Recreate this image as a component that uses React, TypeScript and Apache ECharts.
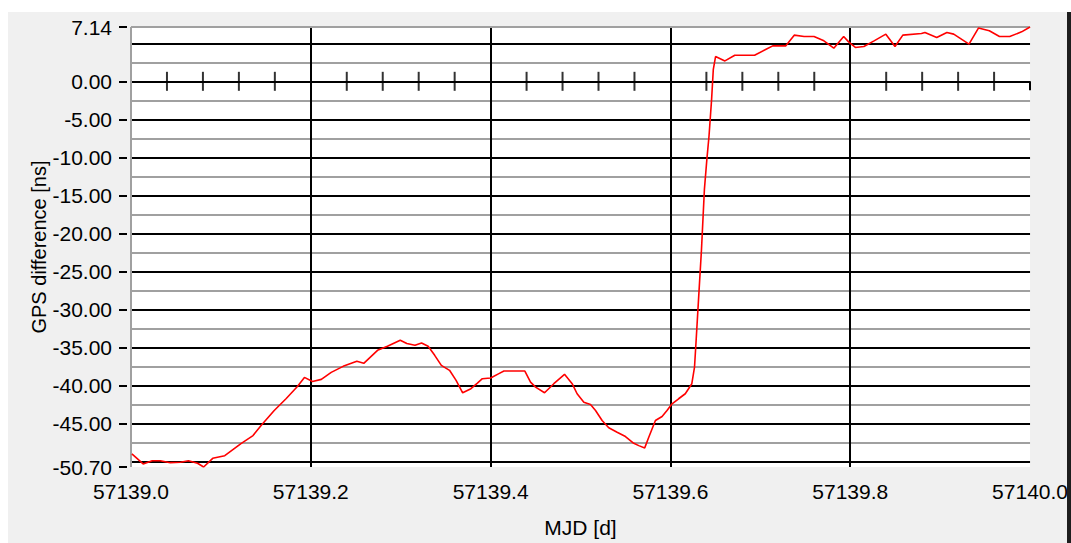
import React, { useEffect, useRef } from "react";
import * as echarts from "echarts";

// MJD sample times [d]
const mjd = [
  57139.001, 57139.0135, 57139.0236, 57139.0325, 57139.0437, 57139.055, 57139.0639, 57139.074,
  57139.0808, 57139.0909, 57139.1043, 57139.1133, 57139.1223, 57139.1357, 57139.1447, 57139.1593,
  57139.1727, 57139.1851, 57139.1929, 57139.2019, 57139.2117, 57139.2227, 57139.2359, 57139.2512,
  57139.2589, 57139.2742, 57139.2852, 57139.2995, 57139.3068, 57139.3159, 57139.3232, 57139.3305,
  57139.3378, 57139.3452, 57139.3543, 57139.3616, 57139.3689, 57139.3781, 57139.3853, 57139.3908,
  57139.4, 57139.4092, 57139.4148, 57139.4381, 57139.4444, 57139.45, 57139.46, 57139.4703,
  57139.4822, 57139.4907, 57139.4962, 57139.5037, 57139.5111, 57139.5167, 57139.524, 57139.5314,
  57139.5407, 57139.55, 57139.5592, 57139.5648, 57139.5714, 57139.5759, 57139.5833, 57139.5907,
  57139.5962, 57139.6018, 57139.6091, 57139.6165, 57139.6238, 57139.6268, 57139.6286, 57139.6312,
  57139.6345, 57139.6378, 57139.6405, 57139.6429, 57139.6458, 57139.6477, 57139.6502, 57139.6606,
  57139.6716, 57139.6936, 57139.7064, 57139.7138, 57139.7284, 57139.7377, 57139.7487, 57139.7597,
  57139.7707, 57139.7817, 57139.7927, 57139.7982, 57139.8057, 57139.8152, 57139.8265, 57139.8396,
  57139.8498, 57139.8585, 57139.8792, 57139.8831, 57139.8962, 57139.9075, 57139.9151, 57139.9321,
  57139.9426, 57139.9547, 57139.966, 57139.9774, 57139.9906, 57140.0,
];

// GPS difference [ns]
const gpsDiff = [
  -48.98, -50.3, -49.87, -49.87, -50.13, -50.07, -49.87, -50.2,
  -50.7, -49.56, -49.21, -48.42, -47.63, -46.57, -45.25, -43.27,
  -41.69, -40.11, -38.92, -39.45, -39.18, -38.26, -37.47, -36.81,
  -37.07, -35.36, -34.83, -34.04, -34.47, -34.7, -34.39, -34.83,
  -36.02, -37.34, -37.99, -39.31, -40.94, -40.41, -39.67, -39.09,
  -39.01, -38.43, -38.09, -38.09, -39.54, -40.2, -40.94, -39.75,
  -38.52, -39.75, -41.07, -42.18, -42.48, -43.27, -44.59, -45.55,
  -46.13, -46.7, -47.59, -47.89, -48.19, -46.79, -44.59, -44.06,
  -43.27, -42.39, -41.73, -41.07, -39.75, -37.56, -34.04, -28.8,
  -22.2, -14.2, -10.3, -7.22, -2.37, 1.58, 3.26, 2.68,
  3.43, 3.43, 4.22, 4.66, 4.66, 6.07, 5.9, 5.9,
  5.32, 4.35, 5.9, 5.18, 4.45, 4.58, 5.32, 6.2,
  4.58, 6.07, 6.29, 6.42, 5.77, 6.42, 6.2, 4.88,
  7.0, 6.64, 5.9, 5.9, 6.5, 7.14,
];

const yMin = -50.7;
const yMax = 7.14;
const xMin = 57139.0;
const xMax = 57140.0;

const xTickValues = [57139.0, 57139.2, 57139.4, 57139.6, 57139.8, 57140.0];
const yTickValues = [7.14, 0, -5, -10, -15, -20, -25, -30, -35, -40, -45, -50.7];
const majorGridValues = [5, 0, -5, -10, -15, -20, -25, -30, -35, -40, -45, -50];
const minorGridValues = [2.5, -2.5, -7.5, -12.5, -17.5, -22.5, -27.5, -32.5, -37.5, -42.5, -47.5];
const verticalGridValues = [57139.2, 57139.4, 57139.6, 57139.8];
const zeroLineTickValues = [
  57139.04, 57139.08, 57139.12, 57139.16, 57139.24, 57139.28, 57139.32, 57139.36,
  57139.44, 57139.48, 57139.52, 57139.56, 57139.64, 57139.68, 57139.72, 57139.76,
  57139.84, 57139.88, 57139.92, 57139.96,
];

const FONT = "'Liberation Sans', Arial, sans-serif";
const BLACK = "#000000";
const GRAY = "#a0a0a0";

export default function App() {
  const ref = useRef<HTMLDivElement>(null);

  useEffect(() => {
    if (!ref.current) return;
    const chart = echarts.init(ref.current, undefined, { renderer: "svg" });

    const lineData = mjd.map((t, i) => [t, gpsDiff[i]]);
    const markData: any[] = [
      ...minorGridValues.map((v) => ({ yAxis: v, lineStyle: { color: GRAY, width: 2, type: "solid" } })),
      ...majorGridValues.map((v) => ({ yAxis: v, lineStyle: { color: BLACK, width: 2, type: "solid" } })),
      ...verticalGridValues.map((v) => ({ xAxis: v, lineStyle: { color: BLACK, width: 2, type: "solid" } })),
      { yAxis: yMax, lineStyle: { color: GRAY, width: 2, type: "solid" } },
      { xAxis: xMin, lineStyle: { color: GRAY, width: 2, type: "solid" } },
    ];

    chart.setOption({
      animation: false,
      backgroundColor: "#ffffff",
      textStyle: { fontFamily: FONT },
      graphic: [
        { type: "rect", z: -100, shape: { x: 8, y: 12, width: 1060, height: 531 }, style: { fill: "#f0f0f0" } },
        { type: "rect", z: 100, shape: { x: 1067, y: 12, width: 4, height: 531 }, style: { fill: "#1e1e1e" } },
      ],
      grid: {
        left: 131,
        right: 40,
        top: 27,
        bottom: 76,
        show: true,
        backgroundColor: "#ffffff",
        borderWidth: 0,
      },
      xAxis: [
        {
          type: "value",
          min: xMin,
          max: xMax,
          offset: 2,
          name: "MJD [d]",
          nameLocation: "middle",
          nameGap: 48,
          nameTextStyle: { color: BLACK, fontSize: 21, fontFamily: FONT },
          axisLine: { show: false },
          axisTick: { show: true, length: 9, customValues: xTickValues, lineStyle: { color: BLACK, width: 2 } },
          axisLabel: {
            show: true,
            customValues: xTickValues,
            margin: 12,
            color: BLACK,
            fontSize: 21,
            fontFamily: FONT,
            formatter: (v: number) => v.toFixed(1),
          },
          splitLine: { show: false },
        },
      ],
      yAxis: [
        {
          type: "value",
          min: yMin,
          max: yMax,
          name: "GPS difference [ns]",
          nameLocation: "middle",
          nameGap: 82,
          nameTextStyle: { color: BLACK, fontSize: 20, fontFamily: FONT },
          axisLine: { show: false },
          axisTick: { show: false },
          axisLabel: { show: false },
          splitLine: { show: false },
        },
        {
          type: "value",
          min: yMin,
          max: yMax,
          position: "left",
          offset: 4,
          axisLine: { show: false },
          axisTick: { show: true, length: 8, customValues: yTickValues, lineStyle: { color: BLACK, width: 2 } },
          axisLabel: {
            show: true,
            customValues: yTickValues,
            margin: 15,
            color: BLACK,
            fontSize: 21,
            fontFamily: FONT,
            formatter: (v: number) => v.toFixed(2),
          },
          splitLine: { show: false },
        },
      ],
      series: [
        {
          type: "line",
          name: "grid",
          data: [],
          silent: true,
          markLine: {
            silent: true,
            symbol: ["none", "none"],
            label: { show: false },
            emphasis: { disabled: true },
            animation: false,
            data: markData,
          },
        },
        {
          type: "scatter",
          name: "zero ticks",
          silent: true,
          z: 6,
          symbol: "rect",
          symbolSize: [2, 19],
          itemStyle: { color: BLACK },
          data: zeroLineTickValues.map((t) => [t, 0]),
        },
        {
          type: "line",
          name: "GPS difference",
          z: 10,
          showSymbol: false,
          symbol: "none",
          lineStyle: { color: "#ff0000", width: 1.6 },
          itemStyle: { color: "#ff0000" },
          data: lineData,
        },
      ],
    });

    return () => chart.dispose();
  }, []);

  return (
    <div
      ref={ref}
      style={{ position: "absolute", left: 0, top: 0, width: 1071, height: 543 }}
    />
  );
}
